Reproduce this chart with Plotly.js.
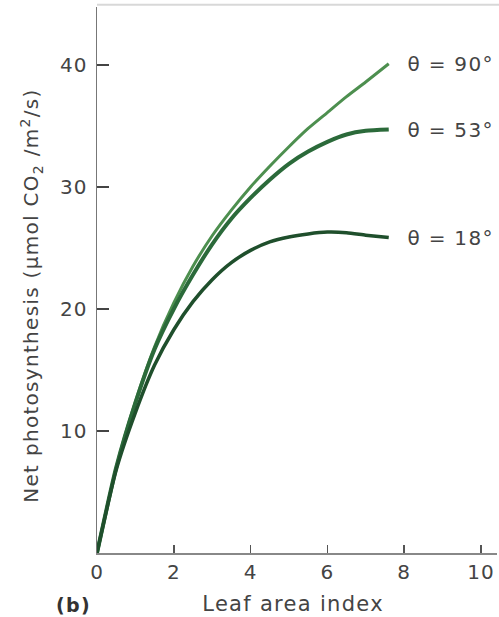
<!DOCTYPE html>
<html>
<head>
<meta charset="utf-8">
<script src="https://cdn.plot.ly/plotly-3.0.1.min.js"></script>
<style>
html,body{margin:0;padding:0;background:#fff;}
#chart{width:499px;height:617px;}
#chart .xtick text, #chart .ytick text{letter-spacing:1px;}
#chart .annotation-text{letter-spacing:1.3px;}
</style>
</head>
<body>
<div id="chart"></div>
<script>
const leafAreaIndex = [0, 0.5, 1, 1.5, 2, 2.5, 3, 3.5, 4, 4.5, 5, 5.5, 6, 6.5, 7, 7.6];
const theta90 = [0, 7.0, 12.4, 16.9, 20.5, 23.5, 26.0, 28.1, 30.0, 31.7, 33.3, 34.8, 36.1, 37.4, 38.6, 40.1];
const theta53 = [0, 7.0, 12.3, 16.7, 20.0, 22.8, 25.3, 27.4, 29.1, 30.6, 31.9, 32.9, 33.7, 34.3, 34.6, 34.7];
const theta18 = [0, 6.8, 11.5, 15.4, 18.3, 20.6, 22.4, 23.8, 24.8, 25.5, 25.9, 26.15, 26.3, 26.25, 26.05, 25.85];
const seriesLabels = ["θ = 90°", "θ = 53°", "θ = 18°"];
const xTickVals = [0, 2, 4, 6, 8, 10];
const yTickVals = [10, 20, 30, 40];
const xTitle = "Leaf area index";
const yTitle = "Net photosynthesis (μmol CO<sub>2</sub> /m<sup>2</sup>/s)";
const panelLabel = "(b)";

const series = [theta90, theta53, theta18];
const colors = ["#4d8f4f", "#2b6a3a", "#1f4f2c"];
const widths = [3, 4, 3.5];

const traces = series.map((ys, i) => ({
  x: leafAreaIndex, y: ys, type: "scatter", mode: "lines",
  line: {color: colors[i], width: widths[i], shape: "spline", smoothing: 0.6},
  hoverinfo: "skip", showlegend: false
}));

const FAM = "DejaVu Sans, Arial, sans-serif";
const font = {family: FAM, color: "#444"};
// plot area in pixels: x 97..497, y 7..553
const px = v => (v - 97) / 400;
const py = v => (553 - v) / 546;

const annotations = series.map((ys, i) => ({
  x: leafAreaIndex[leafAreaIndex.length - 1] + 0.55, y: ys[ys.length - 1],
  xref: "x", yref: "y", xanchor: "left", yanchor: "middle",
  text: seriesLabels[i], showarrow: false,
  font: {family: FAM, size: 20, color: "#444"}
}));
annotations.push({
  x: px(73), y: py(605), xref: "paper", yref: "paper", xanchor: "center", yanchor: "middle",
  showarrow: false, text: "<b>" + panelLabel + "</b>",
  font: {family: FAM, size: 19, color: "#333"}
});
annotations.push({
  x: px(293), y: py(604), xref: "paper", yref: "paper", xanchor: "center", yanchor: "middle",
  showarrow: false, text: xTitle, font: {family: FAM, size: 21, color: "#444"}
});
annotations.push({
  x: px(31), y: py(296), xref: "paper", yref: "paper", xanchor: "center", yanchor: "middle",
  showarrow: false, textangle: -90, text: yTitle, font: {family: FAM, size: 20, color: "#444"}
});

const layout = {
  width: 499, height: 617,
  margin: {l: 97, r: 2, t: 7, b: 64},
  paper_bgcolor: "#fff", plot_bgcolor: "#fff",
  font: font,
  xaxis: {
    range: [0, 10.42], tickvals: xTickVals, ticks: "inside", ticklen: 8, tickwidth: 1.5, tickcolor: "#555",
    showline: true, linecolor: "#888", linewidth: 1.5, showgrid: false, zeroline: false,
    tickfont: {family: FAM, size: 20, color: "#444"}
  },
  yaxis: {
    range: [0, 44.75], tickvals: yTickVals, ticks: "inside", ticklen: 12, tickwidth: 1.5, tickcolor: "#444",
    showline: true, linecolor: "#777", linewidth: 1.5, showgrid: false, zeroline: false,
    tickfont: {family: FAM, size: 20, color: "#444"}, ticklabelstandoff: 4
  },
  shapes: [{type: "line", xref: "paper", yref: "paper", x0: 0, x1: 1.01, y0: 1.004, y1: 1.004,
            line: {color: "#d8d8d8", width: 2}}],
  annotations: annotations
};

Plotly.newPlot("chart", traces, layout, {staticPlot: true, displayModeBar: false});
</script>
</body>
</html>
